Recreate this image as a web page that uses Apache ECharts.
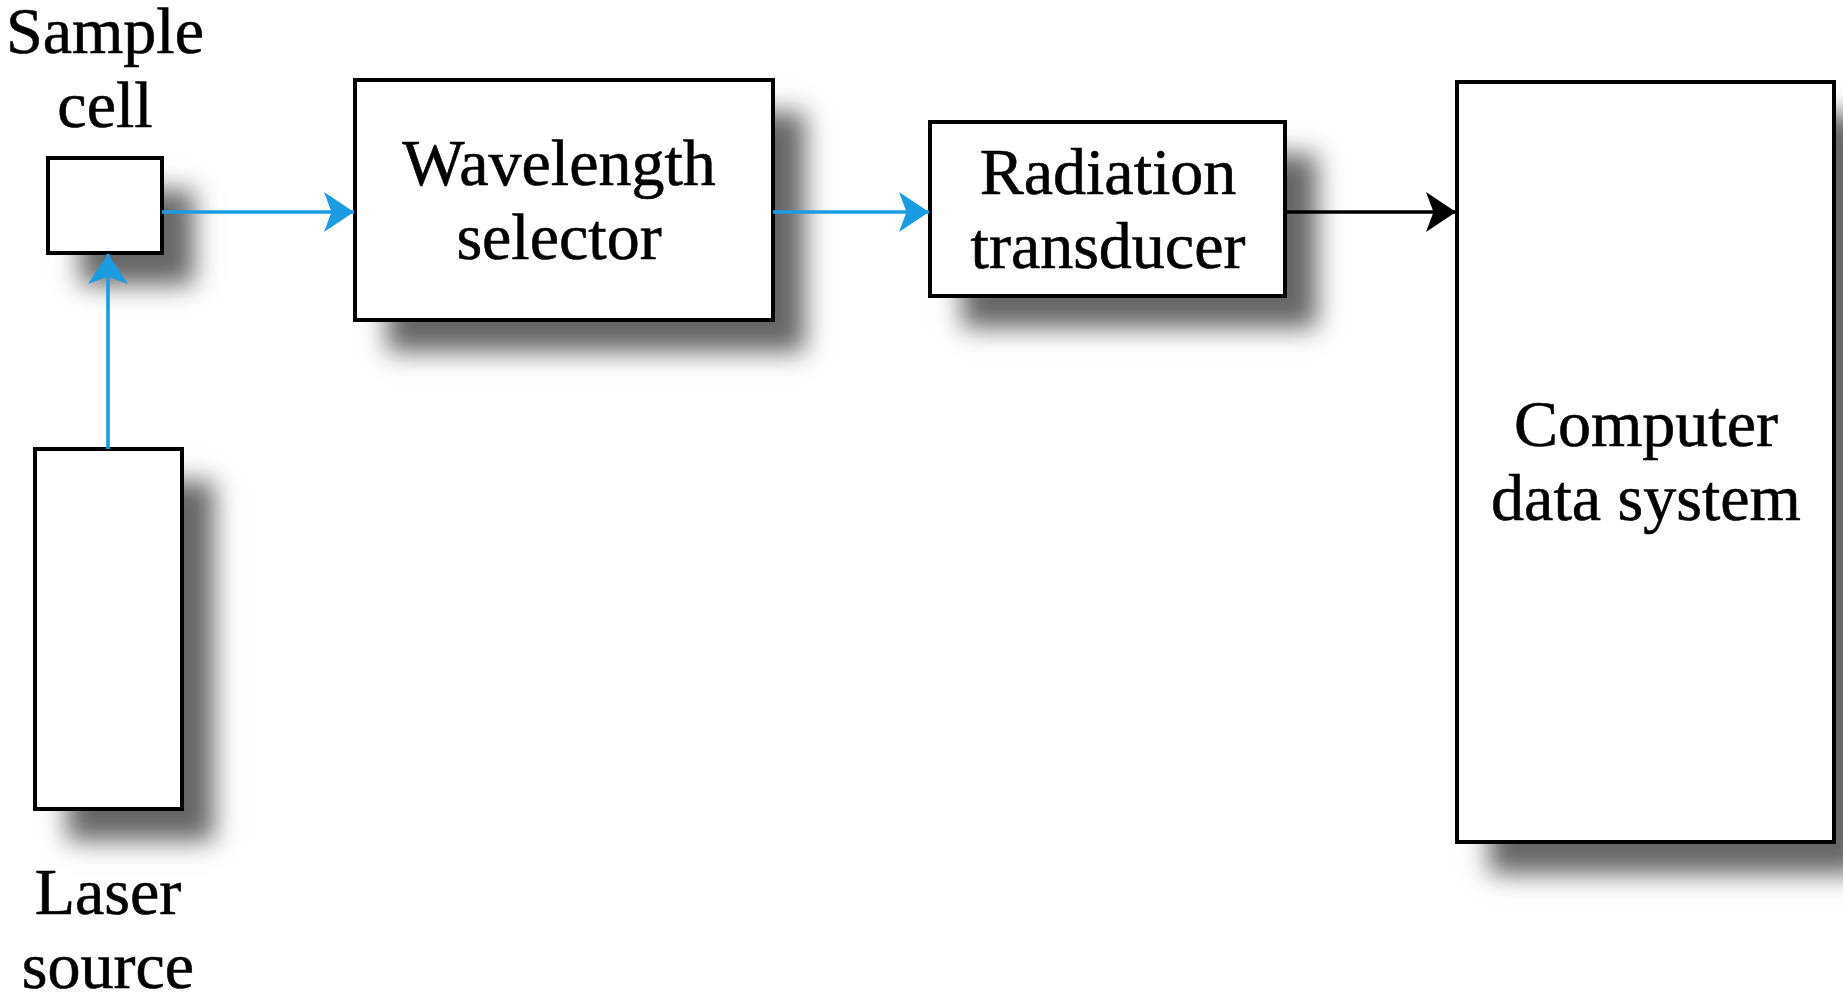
<!DOCTYPE html>
<html>
<head>
<meta charset="utf-8">
<title>Laser spectrometer block diagram</title>
<script src="https://cdn.jsdelivr.net/npm/echarts@6/dist/echarts.min.js"></script>
<style>
  html, body { margin: 0; padding: 0; background: #fff; }
  #main { width: 1843px; height: 996px; }
</style>
</head>
<body>
<div id="main"></div>
<script>
// blocks of the diagram, in diagram units (y grows downward)
var boxLeft   = [48, 355, 930, 1457, 35];
var boxTop    = [158, 80, 122, 82, 449];
var boxRight  = [162, 773, 1285, 1834, 182];
var boxBottom = [253, 320, 296, 842, 809];

// block names and where they are written
var labelText = ['Sample\ncell', 'Wavelength\nselector', 'Radiation\ntransducer', 'Computer\ndata system', 'Laser\nsource'];
var labelX = [105, 559, 1108, 1646, 108];
var labelY = [73, 205, 214, 466, 934];

// connections: light path (blue) and electrical signal (black)
var arrowFromX = [108, 162, 773, 1285];
var arrowFromY = [449, 212, 212, 212];
var arrowToX   = [108, 354, 929, 1456];
var arrowToY   = [254, 212, 212, 212];
var arrowKind  = ['light', 'light', 'light', 'signal'];

var kindColor = { light: '#1b9ce2', signal: '#000000' };

var boxData = boxLeft.map(function (x, i) {
  return [x, boxTop[i], boxRight[i], boxBottom[i]];
});

var labelData = labelText.map(function (t, i) {
  return [labelX[i], labelY[i], t];
});

var arrowData = arrowFromX.map(function (x, i) {
  return {
    coords: [[x, arrowFromY[i]], [arrowToX[i], arrowToY[i]]],
    lineStyle: { color: kindColor[arrowKind[i]] }
  };
});

var chart = echarts.init(document.getElementById('main'), null, { renderer: 'canvas' });

var option = {
  backgroundColor: '#ffffff',
  animation: false,
  grid: { left: 0, right: 0, top: 0, bottom: 0 },
  xAxis: { type: 'value', min: 0, max: 1843, show: false },
  yAxis: { type: 'value', min: 0, max: 996, inverse: true, show: false },
  series: [
    {
      type: 'custom',
      z: 2,
      data: boxData,
      renderItem: function (params, api) {
        var p0 = api.coord([api.value(0), api.value(1)]);
        var p1 = api.coord([api.value(2), api.value(3)]);
        var shape = { x: p0[0], y: p0[1], width: p1[0] - p0[0], height: p1[1] - p0[1] };
        return {
          type: 'group',
          children: [
            {
              // drop shadow only
              type: 'rect',
              shape: shape,
              style: {
                fill: '#ffffff',
                shadowBlur: 24,
                shadowColor: 'rgba(0,0,0,0.6)',
                shadowOffsetX: 32,
                shadowOffsetY: 32
              }
            },
            {
              type: 'rect',
              shape: shape,
              style: { fill: '#ffffff', stroke: '#000000', lineWidth: 4 }
            }
          ]
        };
      }
    },
    {
      type: 'lines',
      coordinateSystem: 'cartesian2d',
      z: 3,
      symbol: ['none', 'arrow'],
      symbolSize: [14, 30],
      lineStyle: { width: 3.6, opacity: 1, curveness: 0 },
      data: arrowData
    },
    {
      type: 'custom',
      z: 4,
      silent: true,
      data: labelData,
      renderItem: function (params, api) {
        var p = api.coord([api.value(0), api.value(1)]);
        return {
          type: 'text',
          x: p[0],
          y: p[1],
          style: {
            text: labelData[params.dataIndex][2],
            fill: '#000000',
            stroke: '#000000',
            lineWidth: 0.6,
            fontSize: 66,
            fontFamily: '"Liberation Serif", "DejaVu Serif", serif',
            lineHeight: 74,
            align: 'center',
            verticalAlign: 'middle',
            textAlign: 'center',
            textVerticalAlign: 'middle'
          }
        };
      }
    }
  ]
};

chart.setOption(option);
</script>
</body>
</html>
